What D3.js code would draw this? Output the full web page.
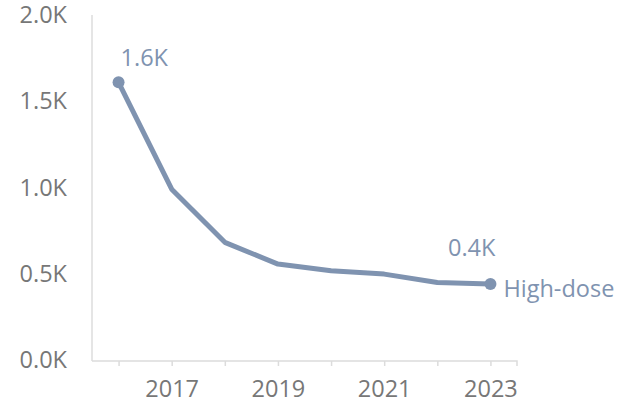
<!DOCTYPE html>
<html><head><meta charset="utf-8">
<script src="https://cdn.jsdelivr.net/npm/d3@7"></script>
<style>body{margin:0;background:#fff}svg{display:block}text{font-family:"Open Sans",sans-serif}</style>
</head><body>
<script>
const years = [2016, 2017, 2018, 2019, 2020, 2021, 2022, 2023];
const values = [1610, 990, 682, 556, 517, 498, 449, 440];
const yTicks = [0, 500, 1000, 1500, 2000];
const xTickLabels = [2017, 2019, 2021, 2023];
const seriesName = "High-dose";

const W = 626, H = 412, FS = 23.5;
const svg = d3.select("body").append("svg").attr("width", W).attr("height", H);
const x = d3.scalePoint().domain(years).range([92, 517]).padding(0.5);
const y = d3.scaleLinear().domain([0, 2000]).range([360, 15]);
const col = "#7f93b0", axCol = "#dcdcdc", txtCol = "#777";

svg.append("line").attr("x1", 92).attr("x2", 92).attr("y1", 15).attr("y2", 361)
  .attr("stroke", axCol).attr("stroke-width", 1.5);
svg.selectAll(".yl").data(yTicks).join("text")
  .attr("x", 67).attr("y", d => y(d)).attr("dy", "0.35em").attr("text-anchor", "end")
  .attr("fill", txtCol).attr("font-size", FS).text(d => (d / 1000).toFixed(1) + "K");

const xa = svg.append("g").attr("transform", "translate(0,361)")
  .call(d3.axisBottom(x).tickSizeOuter(5).tickSizeInner(5).tickFormat(d => xTickLabels.includes(d) ? d : ""));
xa.select(".domain").attr("stroke", axCol).attr("stroke-width", 1.5)
  .attr("d", "M92,0H517V5");
xa.selectAll(".tick line").attr("stroke", axCol).attr("stroke-width", 1.5);
xa.selectAll(".tick text").attr("fill", txtCol).attr("font-size", FS).attr("dy", "1.2em")
  .style("font-family", "Open Sans");

const line = d3.line().x((d, i) => x(years[i])).y(d => y(d));
svg.append("path").datum(values).attr("d", line).attr("fill", "none")
  .attr("stroke", col).attr("stroke-width", 5).attr("stroke-linejoin", "round");

const ends = [0, values.length - 1];
svg.selectAll(".dot").data(ends).join("circle")
  .attr("cx", i => x(years[i])).attr("cy", i => y(values[i])).attr("r", 6).attr("fill", col);

svg.selectAll(".vl").data(ends).join("text")
  .attr("x", i => x(years[i]) + (i === 0 ? 2 : 5)).attr("y", i => y(values[i]) - (i === 0 ? 16 : 28))
  .attr("text-anchor", (d, k) => k === 0 ? "start" : "end")
  .attr("fill", col).attr("font-size", FS).text(i => (values[i] / 1000).toFixed(1) + "K");

const li = values.length - 1;
svg.append("text").attr("x", x(years[li]) + 13).attr("y", y(values[li]) + 5).attr("dy", "0.35em")
  .attr("fill", col).attr("font-size", FS).text(seriesName);
</script>
</body></html>
